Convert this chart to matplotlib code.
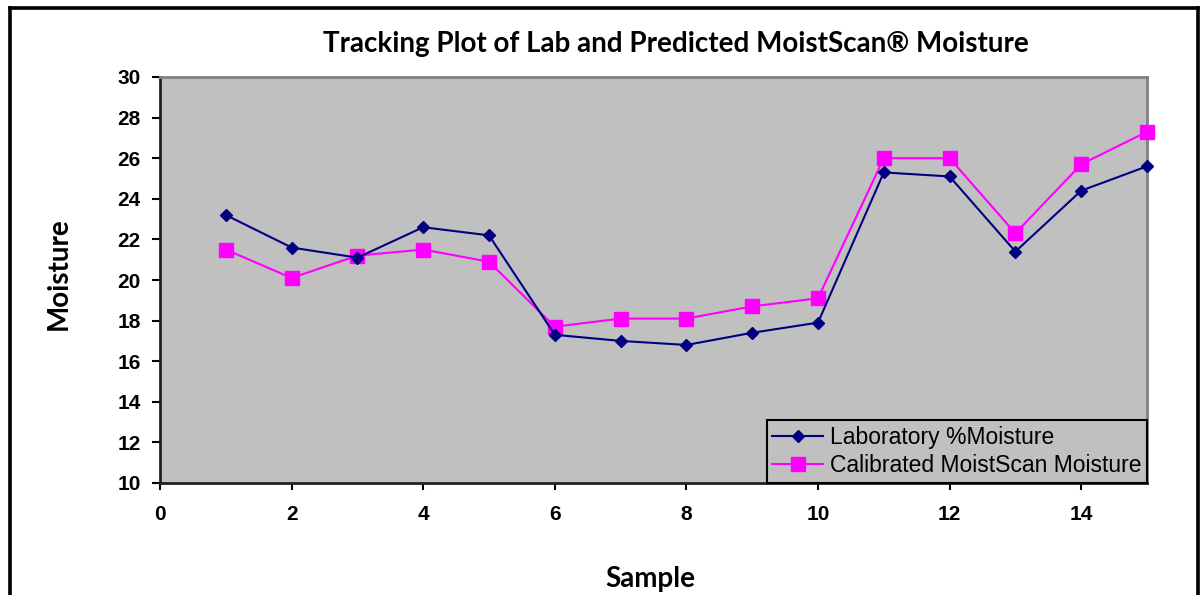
import matplotlib
matplotlib.use("Agg")
import matplotlib.pyplot as plt
from matplotlib.lines import Line2D

samples = list(range(1, 16))
lab_moisture = [23.2, 21.6, 21.1, 22.6, 22.2, 17.3, 17.0, 16.8, 17.4, 17.9, 25.3, 25.1, 21.4, 24.4, 25.6]
cal_moisture = [21.5, 20.1, 21.2, 21.5, 20.9, 17.7, 18.1, 18.1, 18.7, 19.1, 26.0, 26.0, 22.3, 25.7, 27.3]
x_ticks = [0, 2, 4, 6, 8, 10, 12, 14]
y_ticks = [10, 12, 14, 16, 18, 20, 22, 24, 26, 28, 30]

W, H = 1203, 595
fig = plt.figure(figsize=(W / 100, H / 100), dpi=100)
fig.patch.set_facecolor("white")

# outer frame (left, top, right)
for xs, ys in [([10 / W, 10 / W], [0, 1 - 7.5 / H]),
               ([10 / W, 1198 / W], [1 - 7.5 / H, 1 - 7.5 / H]),
               ([1198 / W, 1198 / W], [1 - 7.5 / H, 0])]:
    fig.add_artist(Line2D(xs, ys, transform=fig.transFigure, color="black", lw=2.6,
                          solid_capstyle="projecting"))

ax = fig.add_axes([160 / W, 1 - 483 / H, (1147 - 160) / W, (483 - 77) / H])
ax.set_facecolor("#C0C0C0")

ax.plot(samples, cal_moisture, color="#FF00FF", lw=1.5, marker="s", markersize=9.5,
        markerfacecolor="#FF00FF", markeredgecolor="#FF00FF", label="Calibrated MoistScan Moisture",
        zorder=3, clip_on=False)
ax.plot(samples, lab_moisture, color="#000080", lw=1.5, marker="D", markersize=6.5,
        markerfacecolor="#000080", markeredgecolor="#000080", label="Laboratory %Moisture",
        zorder=4, clip_on=False)

ax.set_xlim(0, 15)
ax.set_ylim(10, 30)
ax.set_xticks(x_ticks)
ax.set_yticks(y_ticks)

tick_font = dict(family="Liberation Sans", weight="bold", size=15)
ax.set_xticklabels([str(t) for t in x_ticks], fontdict=tick_font)
ax.set_yticklabels([str(t) for t in y_ticks], fontdict=tick_font)
ax.tick_params(axis="x", direction="out", length=5, width=1.5, pad=11, colors="black")
ax.tick_params(axis="y", direction="out", length=6, width=1.5, pad=8, colors="black")

for side in ["left", "bottom"]:
    ax.spines[side].set_color("#222222")
    ax.spines[side].set_linewidth(2)
for side in ["top", "right"]:
    ax.spines[side].set_color("#808080")
    ax.spines[side].set_linewidth(2)

fig.text(59 / W, 1 - 274 / H, "Moisture", family="Lato", weight="bold", size=20,
         rotation=90, ha="center", va="center")
fig.text(650 / W, 1 - 579 / H, "Sample", family="Lato", weight="bold", size=20,
         ha="center", va="center")
fig.text(676 / W, 1 - 44 / H, "Tracking Plot of Lab and Predicted MoistScan\u00ae Moisture",
         family="Lato", weight="bold", size=20, ha="center", va="center")

handles, labels = ax.get_legend_handles_labels()
leg = ax.legend(handles[::-1], labels[::-1], loc="lower right", bbox_to_anchor=(1.0, 0.0),
                frameon=True, fancybox=False, facecolor="#C0C0C0", edgecolor="black",
                prop=dict(family="Liberation Sans", size=16.5), borderaxespad=0,
                handlelength=2.2, handletextpad=0.3, labelspacing=0.25, borderpad=0.25)
leg.get_frame().set_linewidth(1.5)
leg.get_frame().set_alpha(1)

fig.savefig("out.png", dpi=100, facecolor="white")
